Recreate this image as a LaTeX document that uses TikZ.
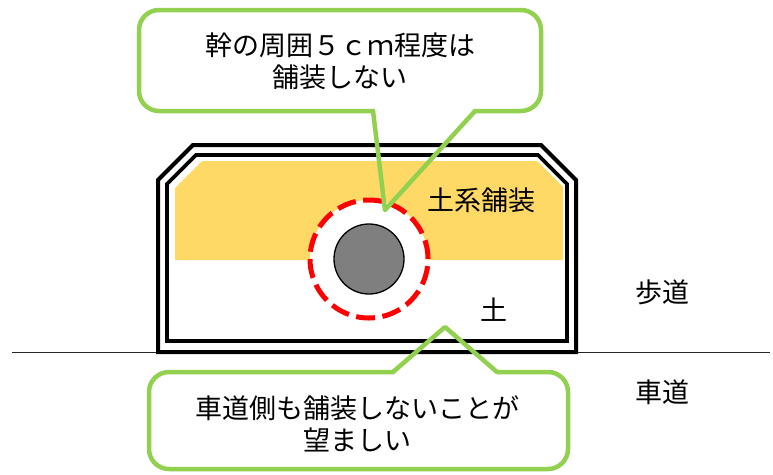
\documentclass[tikz,border=0pt]{standalone}
\usepackage{fontspec}
\setmainfont{Noto Sans CJK JP}
\usetikzlibrary{calc,backgrounds}
\definecolor{LeafGreen}{HTML}{92D050}
\definecolor{SoilGold}{HTML}{FFD966}
\definecolor{TrunkGray}{HTML}{7F7F7F}
\newcommand{\bigjp}{\fontsize{27}{32}\selectfont}

\begin{document}
\begin{tikzpicture}[x=1pt,y=-1pt,
    calloutline/.style={draw=LeafGreen,line width=4.5pt,line join=round,line cap=round},
    curbline/.style={draw=black,line join=miter},
    jplabel/.style={inner sep=0pt,font=\bigjp,align=center}]
        \useasboundingbox (0,0) rectangle (773,474);
        % ground line between sidewalk and road
        \draw[line width=1pt,black!85] (12,352) -- (770,352);
        % planting pit, two curb outlines
        \draw[curbline,fill=white,line width=4pt] (158,180) -- (193,145) -- (541,145) -- (576,180) -- (576,352) -- (158,352) -- cycle;
        \draw[curbline,line width=3.6pt] (167,184) -- (196,155) -- (538,155) -- (567,184) -- (567,341) -- (167,341) -- cycle;
        \fill[SoilGold] (175,188) -- (202,161) -- (537,161) -- (563,187) -- (563,260) -- (175,260) -- cycle;
        % tree and unpaved ring
        \node[circle,draw=red,fill=white,line width=5pt,dash pattern=on 19pt off 7.5pt,minimum size=118pt,inner sep=0pt] (ring) at (369,259) {};
        \node[circle,draw=black,fill=TrunkGray,line width=1.3pt,minimum size=70pt,inner sep=0pt] (trunk) at (ring.center) {};
        \node[jplabel] (paved) at (481,200) {土系舗装};
        \node[jplabel] (soil) at (494,310) {土};
        \node[jplabel] (walk) at (662,292) {歩道};
        \node[jplabel] (road) at (662,392) {車道};
        % callouts
        \coordinate (tiptop) at (385,210);
        \coordinate (tipbottom) at (445,327);
        \draw[calloutline,rounded corners=20pt] (373,111) -- (139,111) -- (139,10) -- (541,10) -- (541,111) -- (475,111);
        \draw[calloutline] (373,111) -- (tiptop) -- (475,111);
        \draw[calloutline,rounded corners=20pt] (393,372) -- (149,372) -- (149,469) -- (568,469) -- (568,372) -- (497,372);
        \draw[calloutline] (393,372) -- (tipbottom) -- (497,372);
        \node[jplabel] (topnote) at (340,61) {幹の周囲５ｃｍ程度は\\舗装しない};
        \node[jplabel] (bottomnote) at (357,424) {車道側も舗装しないことが\\望ましい};
\end{tikzpicture}
\end{document}
